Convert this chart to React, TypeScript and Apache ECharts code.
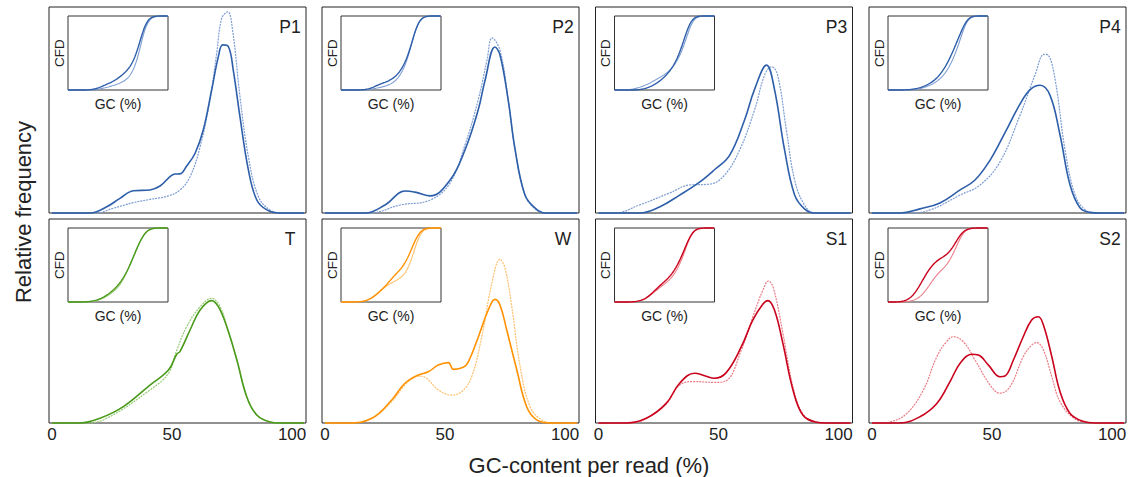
import React, { useEffect, useRef } from "react";
import * as echarts from "echarts";

// ---- Data (GC content %, relative frequency in % of panel height) ----
const panelNames = ["P1", "P2", "P3", "P4", "T", "W", "S1", "S2"];
const xTickValues = [0, 50, 100];

const p1Solid = [[0,0],[15.8,0],[22.8,3],[28.3,7.1],[33.9,10.8],[40.8,11.2],[45,13.1],[51.3,18.9],[53.3,19],[56.1,22.8],[59.6,29],[63,40.3],[66.5,59.7],[69.3,75.9],[71.1,81.6],[73.5,80.7],[75.5,69.4],[78.3,46.7],[81.8,20.9],[85.3,6.3],[89.5,1.5],[95,0],[105,0]];
const p1Dashed = [[0,0],[18.3,0],[25.5,2.3],[33.9,5],[40.8,6.6],[48.5,8.3],[53.3,11.2],[57.5,17.6],[61.7,32.2],[65.8,54.9],[68.6,77.5],[70.7,94.5],[73.2,97.7],[75.3,88],[78.3,56.5],[81.8,27.3],[86,7.9],[90.8,1.5],[96,0],[105,0]];

const p2Solid = [[0,0],[16.7,0],[25,3.9],[33.3,10.7],[38,10],[43.8,8.3],[52.1,16],[58.3,30.6],[63.8,50],[66.7,64.6],[70.8,80.6],[72.9,76.7],[76.3,54.9],[79.2,30.6],[83.3,8.7],[87.5,2.4],[91.7,0],[105,0]];
const p2Dashed = [[0,0],[18.8,0],[31.3,3.9],[43.8,6.3],[52.1,14.6],[58.3,33],[63.8,54.9],[67.5,74.3],[69.6,85],[72.9,79],[76.3,55],[79.2,30.6],[83.3,8.7],[87.5,2],[91.7,0],[105,0]];

const p3Solid = [[0,0],[17.1,0],[25.4,2.9],[33.8,8.7],[42.1,15],[48.3,21],[54.6,28],[60.8,45],[65,60],[70,71.8],[73.3,60],[77.5,30.6],[81.7,8.7],[85.8,2],[90,0],[105,0]];
const p3Dashed = [[0,0],[6.7,0],[17.1,3.9],[29.6,9.7],[37.9,13.6],[46.3,14],[52.5,18.4],[58.8,30.6],[65,50],[69.2,67],[72.1,71],[74.6,67],[78.3,40],[81.7,16],[85.8,3.9],[90,0],[105,0]];

const p4Solid = [[0,0],[11.7,0],[20,2],[28.3,4.9],[36.7,11.2],[42.9,16],[49.2,25.7],[55.4,39],[61.7,53],[66,60],[70,62],[74.2,57],[78.3,38],[82.5,13.6],[86.7,2.4],[90.8,0.3],[95,0],[105,0]];
const p4Dashed = [[0,0],[15.8,0],[24.2,1.5],[36.7,8.7],[45,13.6],[53.3,24.8],[61.7,47.6],[67.9,67],[71.7,77],[73.3,76.7],[76.3,64.6],[80.4,30.6],[84.6,8.7],[88.8,1.5],[92.9,0],[105,0]];

const tSolid = [[0,0],[11.7,0],[20,2.3],[29.7,8],[40.8,18.6],[48.5,26],[52,33.8],[53.3,35],[57.5,45.6],[61.7,55.4],[66.5,60],[69.3,57],[72.8,47.2],[77,30.9],[81.1,12.9],[85.3,3.9],[90.8,0.5],[95,0],[105,0]];
const tDashed = [[0,0],[13.8,0],[22.8,2.3],[40.8,16.2],[48.5,24.4],[52,35.8],[56.1,47.2],[61.7,57],[66.5,61.1],[70,57],[72.8,47.5],[77,31],[81.1,13],[85.3,4],[90.8,0.5],[95,0],[105,0]];

const wSolid = [[0,0],[9.6,0],[19.5,2.3],[27.8,11.3],[33.3,19.5],[38.9,23.5],[43,25.1],[47.2,28.4],[51.4,29.6],[53.5,26.3],[57.6,27.3],[59.7,30],[63.9,42.3],[68,55.4],[70.8,60.6],[72.9,57.8],[75.7,45.6],[79.9,26],[84,8],[88.2,1.5],[93.8,0],[105,0]];
const wDashed = [[0,0],[10.4,0],[19.5,2.3],[27.8,10.5],[33.3,18.6],[38.2,23],[41,22.7],[47.2,16.2],[52.8,13.7],[57,15.4],[61.1,22.7],[65.3,42.3],[69.5,68.5],[72.9,80.2],[75,75.8],[77.8,57],[81.3,27.6],[85.4,8],[90.3,1.5],[95.8,0],[105,0]];

const s1Solid = [[0,0],[11.5,0],[19.9,2.3],[28.2,9.6],[33.8,19.5],[40,24.4],[44.2,23.2],[48.3,21.9],[53.2,24.7],[59.5,37.4],[64.3,50.5],[68.5,58.3],[70.5,60],[73.3,55.4],[76.8,39],[81,16.2],[85.1,3.9],[90.4,0.5],[95,0],[105,0]];
const s1Dashed = [[0,0],[12.9,0],[19.9,2.2],[28.2,9.3],[33.8,18.6],[40,20.3],[48.3,19.9],[53.2,20.7],[59.5,35.8],[64.3,52.1],[68.5,65.2],[70.8,69.6],[72.9,66],[76.8,44],[81,17.8],[85.1,4.5],[90.4,0.5],[95,0],[105,0]];

const s2Solid = [[0,0],[11.7,0],[20,3.1],[27,9.6],[32.5,20.3],[36.7,29.3],[41.5,33.7],[44.3,33.3],[48.5,28.4],[53.3,22.7],[55.4,23],[58.9,30.9],[63,42.3],[66.5,50.5],[69.3,52.1],[71.4,48],[74.9,32.5],[78.3,15.4],[82.5,4.7],[87.9,0.8],[93,0],[105,0]];
const s2Dashed = [[0,0],[3.3,0],[7.5,0.5],[14.5,4.7],[21.4,16.2],[27,32.5],[31.1,39.9],[33.9,42.3],[38,39.9],[42.9,30.9],[49.2,18.6],[53.3,14.6],[57.5,17.8],[63,32.5],[66.5,38.2],[68.6,39.4],[71.4,35.8],[74.9,22.7],[78.3,10.5],[84.2,2.3],[90,0.3],[95,0],[105,0]];

const panelSolid = [p1Solid, p2Solid, p3Solid, p4Solid, tSolid, wSolid, s1Solid, s2Solid];
const panelDashed = [p1Dashed, p2Dashed, p3Dashed, p4Dashed, tDashed, wDashed, s1Dashed, s2Dashed];
// which main series the dark inset CFD curve follows (S2 inset follows the light one)
const insetDarkFromDashed = [false, false, false, false, false, false, false, true];

// ---- Styles / layout ----
const palette: Record<string, [string, string]> = {
  blue: ["#2d5ea9", "#7d9dd2"],
  green: ["#4a9a1a", "#95c972"],
  orange: ["#ff9100", "#ffbf6a"],
  red: ["#c9001c", "#eb7c86"],
};
const panelTheme = ["blue", "blue", "blue", "blue", "green", "orange", "red", "red"];
const FONT = "'Liberation Sans', Arial, Helvetica, sans-serif";
const lefts = [49, 322, 595.5, 869];
const tops = [7, 219];
const heights = [206, 204];
const PW = 257;
const IN_DX = 19, IN_DY = 9, IN_W = 100, IN_H = 74;

function interp(pts: number[][], x: number): number {
  if (x <= pts[0][0]) return pts[0][1];
  for (let i = 1; i < pts.length; i++) {
    if (x <= pts[i][0]) {
      const [x0, y0] = pts[i - 1];
      const [x1, y1] = pts[i];
      return y0 + ((y1 - y0) * (x - x0)) / (x1 - x0);
    }
  }
  return pts[pts.length - 1][1];
}

function cumulative(pts: number[][]): number[][] {
  const xs: number[] = [];
  for (let x = 0; x <= 100; x += 0.5) xs.push(x);
  const acc: number[] = [0];
  for (let i = 1; i < xs.length; i++) {
    const a = interp(pts, xs[i - 1]);
    const b = interp(pts, xs[i]);
    acc.push(acc[i - 1] + ((a + b) / 2) * (xs[i] - xs[i - 1]));
  }
  const total = acc[acc.length - 1] || 1;
  return xs.map((x, i) => [x, acc[i] / total]);
}

function buildOption() {
  const grid: any[] = [];
  const xAxis: any[] = [];
  const yAxis: any[] = [];
  const series: any[] = [];
  const graphic: any[] = [];

  for (let i = 0; i < 8; i++) {
    const r = Math.floor(i / 4);
    const c = i % 4;
    const left = lefts[c];
    const top = tops[r];
    const [dark, light] = palette[panelTheme[i]];

    grid.push({
      left, top, width: PW, height: heights[r],
      show: true, borderColor: "#222", borderWidth: 1, backgroundColor: "transparent",
    });
    xAxis.push({
      type: "value", gridIndex: i, min: -1.25, max: 105.8,
      axisLine: { show: false }, axisTick: { show: false }, splitLine: { show: false },
      axisLabel: r === 1
        ? { show: true, customValues: xTickValues, fontSize: 17, color: "#222", margin: 3, fontFamily: FONT }
        : { show: false },
    });
    yAxis.push({ type: "value", gridIndex: i, min: 0, max: 100, show: false });

    series.push({
      type: "line", xAxisIndex: i, yAxisIndex: i, data: panelDashed[i],
      smooth: 0.4, showSymbol: false, clip: false, z: 3,
      lineStyle: { color: light, width: 1.2, type: [2, 1] },
    });
    series.push({
      type: "line", xAxisIndex: i, yAxisIndex: i, data: panelSolid[i],
      smooth: 0.4, showSymbol: false, clip: false, z: 4,
      lineStyle: { color: dark, width: 1.6 },
    });

    graphic.push({
      type: "text", x: left + PW - 16, y: top + 19.5,
      style: { text: panelNames[i], fontSize: 17.5, fill: "#222", fontFamily: FONT, align: "center", verticalAlign: "middle" },
    });
  }

  for (let i = 0; i < 8; i++) {
    const r = Math.floor(i / 4);
    const c = i % 4;
    const left = lefts[c] + IN_DX;
    const top = tops[r] + IN_DY;
    const [dark, light] = palette[panelTheme[i]];
    const gi = 8 + i;
    grid.push({
      left, top, width: IN_W, height: IN_H,
      show: true, borderColor: "#333", borderWidth: 1, backgroundColor: "#fff",
    });
    xAxis.push({ type: "value", gridIndex: gi, min: 0, max: 100, show: false });
    yAxis.push({ type: "value", gridIndex: gi, min: 0, max: 1, show: false });
    const darkSrc = insetDarkFromDashed[i] ? panelDashed[i] : panelSolid[i];
    const lightSrc = insetDarkFromDashed[i] ? panelSolid[i] : panelDashed[i];
    series.push({
      type: "line", xAxisIndex: gi, yAxisIndex: gi, data: cumulative(lightSrc),
      showSymbol: false, clip: false, z: 5, lineStyle: { color: light, width: 1.1 },
    });
    series.push({
      type: "line", xAxisIndex: gi, yAxisIndex: gi, data: cumulative(darkSrc),
      showSymbol: false, clip: false, z: 6, lineStyle: { color: dark, width: 1.4 },
    });
    graphic.push({
      type: "text", x: left - 9, y: top + IN_H / 2, rotation: Math.PI / 2,
      style: { text: "CFD", fontSize: 13.5, fill: "#222", fontFamily: FONT, align: "center", verticalAlign: "middle" },
    });
    graphic.push({
      type: "text", x: left + IN_W / 2, y: top + IN_H + 14,
      style: { text: "GC (%)", fontSize: 14, fill: "#222", fontFamily: FONT, align: "center", verticalAlign: "middle" },
    });
  }

  graphic.push({
    type: "text", x: 23, y: 212, rotation: Math.PI / 2,
    style: { text: "Relative frequency", fontSize: 22, fill: "#222", fontFamily: FONT, align: "center", verticalAlign: "middle" },
  });
  graphic.push({
    type: "text", x: 589, y: 465,
    style: { text: "GC-content per read (%)", fontSize: 22, fill: "#222", fontFamily: FONT, align: "center", verticalAlign: "middle" },
  });

  return { animation: false, backgroundColor: "#fff", grid, xAxis, yAxis, series, graphic };
}

export default function App() {
  const ref = useRef<HTMLDivElement>(null);
  useEffect(() => {
    if (!ref.current) return;
    const chart = echarts.init(ref.current, undefined, { renderer: "svg" });
    chart.setOption(buildOption() as any);
    return () => chart.dispose();
  }, []);
  return (
    <div
      ref={ref}
      style={{ position: "fixed", left: 0, top: 0, width: 1131, height: 477, background: "#fff" }}
    />
  );
}
